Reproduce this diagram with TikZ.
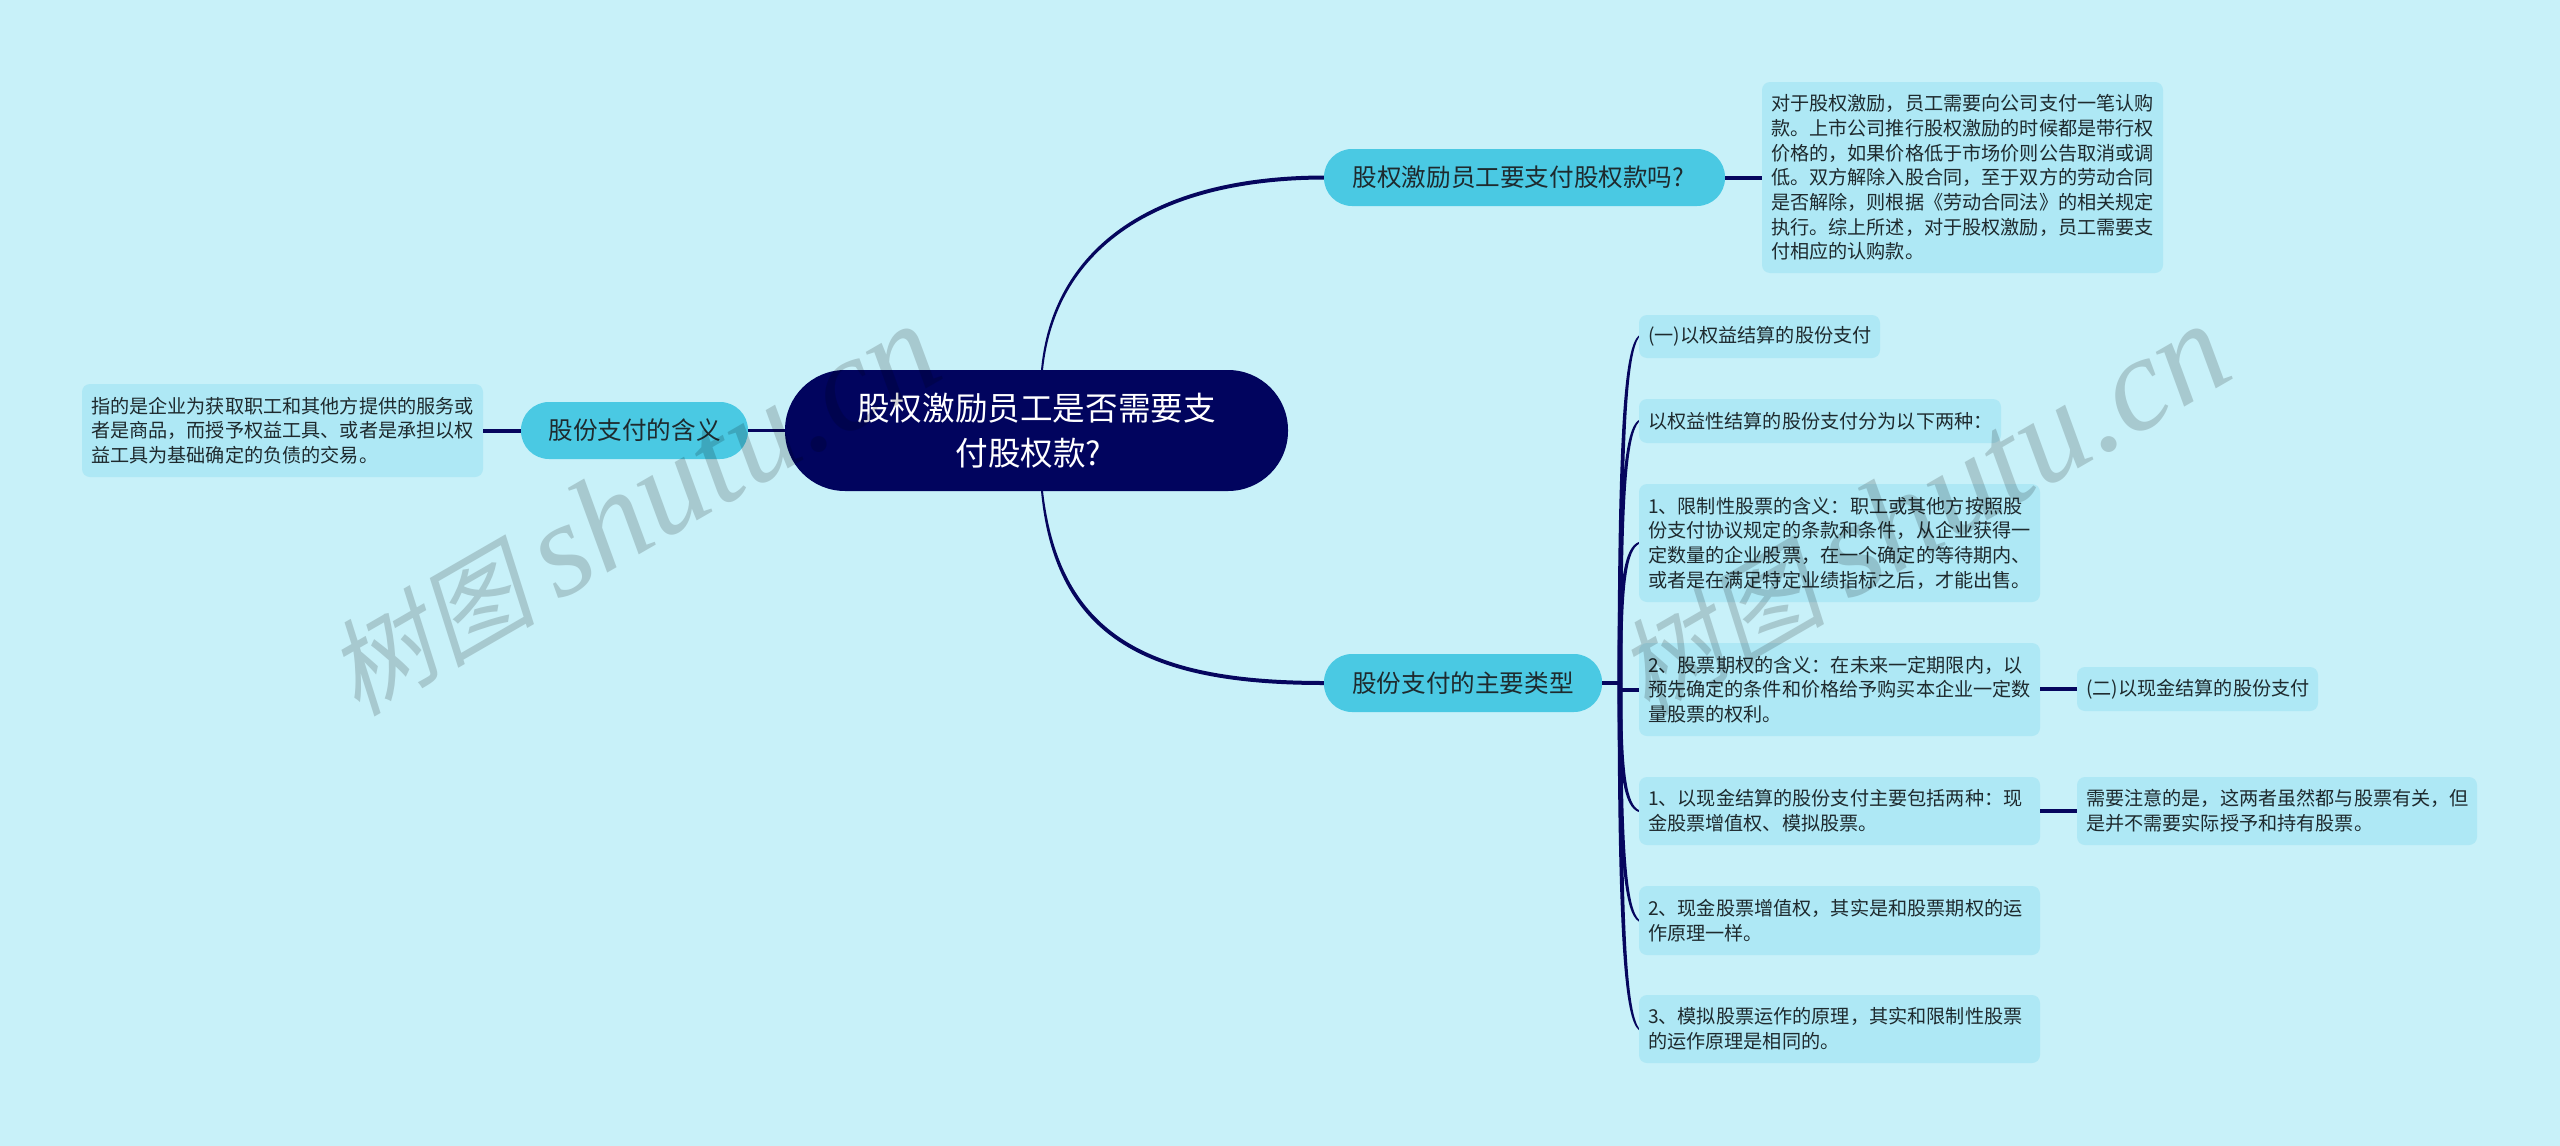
\documentclass[tikz,border=0pt]{standalone}
\usepackage{fontspec}
\usetikzlibrary{calc}
\setmainfont{Noto Sans CJK SC}
\newfontfamily\wmlat{Liberation Serif}
\newfontfamily\wmcjk[FakeSlant=0.22]{Noto Sans CJK SC}
\definecolor{bgc}{RGB}{200,241,249}
\definecolor{linkc}{RGB}{6,6,94}
\definecolor{rootc}{RGB}{1,4,94}
\definecolor{midc}{RGB}{74,201,227}
\definecolor{leafc}{RGB}{174,232,245}
\definecolor{inkc}{RGB}{30,42,46}
\definecolor{wmc}{gray}{0.835}
\tikzset{
  x=1pt,y=-1pt,
  rootbox/.style={fill=rootc,text=white,rounded corners=60,inner sep=0,align=center,
    minimum width=503,minimum height=121,font=\fontsize{32.6}{45}\selectfont},
  midbox/.style 2 args={fill=midc,text=inkc,rounded corners=28,inner sep=0,
    minimum width=#1,minimum height=#2,font=\fontsize{24.6}{30}\selectfont},
  leafbox/.style 2 args={fill=leafc,text=inkc,rounded corners=8,inner xsep=9,inner ysep=0,
    align=left,text width=#1-18,minimum width=#1,minimum height=#2,
    font=\fontsize{19.15}{24.7}\selectfont},
  linkbar/.style={draw=linkc,line width=4},
  linkthin/.style={draw=linkc,line width=3},
  wmark/.style={text=wmc,rotate=30,inner sep=0}
}
\newcommand{\fanlink}[2]{%
  \fill[linkc] ($(t)+(-2.4,0)$)
    .. controls ($(t)!.75!(t|-#1.west)+(-2.4,0)$) and ($(t)!.97!(t|-#1.west)+(5,0)$) .. ($(#1.west)+(0,#2)$)
    -- ($(#1.west)+(0,-#2)$)
    .. controls ($(t)!.95!(t|-#1.west)+(8,0)$) and ($(t)!.75!(t|-#1.west)+(1.6,0)$) .. ($(t)+(2.4,0)$) -- cycle;}
\newcommand{\wmtext}{{\fontsize{105}{105}\selectfont\wmcjk 树图}\hspace{22pt}{\fontsize{134}{134}\selectfont\wmlat\itshape shutu.cn}}
\begin{document}
\begin{tikzpicture}
\useasboundingbox (0,0) rectangle (2560,1146);
\fill[bgc] (0,0) rectangle (2560,1146);

\node[rootbox] (root) at (1036.5,430.5) {股权激励员工是否需要支\\付股权款?\hspace*{16pt}};
\coordinate (rt) at (1042,370);
\coordinate (rb) at (1042,491);
\coordinate (t) at (1620,683);

\node[midbox={401}{57}] (q) at (1524.5,177.5) {股权激励员工要支付股权款吗?\hspace*{12pt}};
\node[midbox={278}{58}] (m2) at (1463,683) {股份支付的主要类型};
\node[midbox={227}{57}] (m3) at (634.5,430.5) {股份支付的含义};

\node[leafbox={401}{191}] (d1) at (1962.5,177.5) {对于股权激励，员工需要向公司支付一笔认购\\款。上市公司推行股权激励的时候都是带行权\\价格的，如果价格低于市场价则公告取消或调\\低。双方解除入股合同，至于双方的劳动合同\\是否解除，则根据《劳动合同法》的相关规定\\执行。综上所述，对于股权激励，员工需要支\\付相应的认购款。};
\node[leafbox={401}{93}] (l1) at (282.5,430.5) {指的是企业为获取职工和其他方提供的服务或\\者是商品，而授予权益工具、或者是承担以权\\益工具为基础确定的负债的交易。};
\node[leafbox={241}{43}] (a1) at (1759.5,336.5) {(一)以权益结算的股份支付};
\node[leafbox={362}{44}] (a2) at (1820,421) {以权益性结算的股份支付分为以下两种：};
\node[leafbox={401}{118}] (a3) at (1839.5,543) {1、限制性股票的含义：职工或其他方按照股\\份支付协议规定的条款和条件，从企业获得一\\定数量的企业股票，在一个确定的等待期内、\\或者是在满足特定业绩指标之后，才能出售。};
\node[leafbox={401}{93}] (a4) at (1839.5,689.5) {2、股票期权的含义：在未来一定期限内，以\\预先确定的条件和价格给予购买本企业一定数\\量股票的权利。};
\node[leafbox={401}{68}] (a5) at (1839.5,811) {1、以现金结算的股份支付主要包括两种：现\\金股票增值权、模拟股票。};
\node[leafbox={401}{69}] (a6) at (1839.5,920.5) {2、现金股票增值权，其实是和股票期权的运\\作原理一样。};
\node[leafbox={401}{68}] (a7) at (1839.5,1029) {3、模拟股票运作的原理，其实和限制性股票\\的运作原理是相同的。};
\node[leafbox={241}{44}] (b1) at (2197.5,689) {(二)以现金结算的股份支付};
\node[leafbox={400}{68}] (b2) at (2277,811) {需要注意的是，这两者虽然都与股票有关，但\\是并不需要实际授予和持有股票。};

% trunk connectors from the central node
\fill[linkc] ($(rt)+(-1,0)$) .. controls (1052,250) and (1150,176) .. ($(q.west)+(0,-2)$)
  -- ($(q.west)+(0,2)$) .. controls (1152,180) and (1055,252) .. ($(rt)+(1,0)$) -- cycle;
\fill[linkc] ($(rb)+(-1,0)$) .. controls (1055,640) and (1150,685) .. ($(m2.west)+(0,2)$)
  -- ($(m2.west)+(0,-2)$) .. controls (1152,681) and (1060,638) .. ($(rb)+(1,0)$) -- cycle;
\draw[linkthin] (m3.east) -- (root.west);
\draw[linkbar] (m3.west) -- (l1.east);
\draw[linkbar] (q.east) -- (d1.west);
\draw[linkbar] (m2.east) -- (t);

% fan of branches
\fanlink{a1}{-1}
\fanlink{a2}{-1}
\fanlink{a3}{-1}
\fanlink{a5}{1}
\fanlink{a6}{1}
\fanlink{a7}{1}
\draw[linkbar] (t |- a4.west) -- (a4.west);
\draw[linkbar] (a4.east |- b1.west) -- (b1.west);
\draw[linkbar] (a5.east) -- (b2.west);

% watermarks
\begin{scope}[blend mode=multiply]
\node[wmark] (w1) at (632,510) {\wmtext};
\node[wmark] (w2) at (1922,510) {\wmtext};
\end{scope}
\end{tikzpicture}
\end{document}
